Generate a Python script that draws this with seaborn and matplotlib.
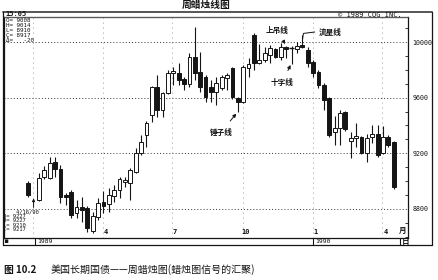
import numpy as np
import pandas as pd
import matplotlib
matplotlib.use("Agg")
import matplotlib.pyplot as plt
import matplotlib.transforms as mtransforms
from matplotlib.lines import Line2D
import seaborn as sns

# ---- data (weekly T-bond futures, points; 100.00 = "10000") ----
week = list(range(69))
open_ = [89.86, np.nan, 88.63, 90.29, 90.22, 91.37, 90.86, 88.99, 89.21, 87.70, 88.13, 88.06, 86.40, 87.41, 88.49,
         88.35, 88.92, 89.35, 89.93, 89.86, 90.65, 92.01, 93.31, 94.75, 96.76, 95.11, 96.33, 97.77, 97.77, 97.34,
         96.98, 98.92, 97.84, 97.48, 96.76, 96.40, 96.69, 97.41, 98.13, 95.97, 95.68, 98.13, 100.50, 98.49, 98.71,
         99.06, 99.50, 98.92, 99.64, 99.60, 99.50, 99.78, 99.42, 98.56, 97.84, 96.91, 95.97, 93.53, 93.81, 94.96,
         92.88, 93.13, 93.17, 92.01, 93.17, 93.38, 92.01, 93.17, 92.81]
high = [90.00, np.nan, 90.58, 91.08, 91.73, 91.73, 91.15, 89.14, 89.35, 88.63, 88.85, 88.20, 87.77, 88.78, 89.28,
        89.50, 89.71, 90.29, 90.29, 90.94, 92.37, 93.31, 94.32, 96.83, 97.63, 96.40, 97.99, 98.20, 98.49, 97.48,
        99.21, 101.08, 99.28, 97.63, 97.27, 97.48, 97.63, 97.77, 98.20, 96.04, 98.35, 98.85, 100.65, 99.86, 99.64,
        99.78, 99.57, 99.93, 99.71, 99.71, 100.00, 100.50, 99.64, 98.71, 97.99, 97.05, 96.04, 94.68, 95.11, 95.04,
        93.53, 94.17, 93.24, 93.38, 94.03, 94.03, 93.96, 93.31, 92.88]
low = [88.85, np.nan, 88.56, 90.14, 90.14, 90.29, 88.42, 88.27, 87.34, 87.34, 87.05, 86.33, 86.26, 87.19, 87.70,
       87.77, 88.49, 88.78, 89.57, 88.63, 90.58, 91.87, 92.45, 94.24, 94.60, 94.60, 96.26, 96.90, 96.90, 96.55,
       96.76, 97.27, 96.40, 95.68, 95.68, 95.47, 96.55, 96.55, 95.90, 94.96, 95.61, 97.48, 97.99, 98.42, 98.56,
       98.49, 98.85, 98.71, 98.85, 98.42, 99.21, 99.57, 98.20, 97.48, 96.69, 95.11, 93.17, 92.59, 92.59, 93.60,
       91.65, 92.45, 91.94, 91.37, 92.73, 91.73, 91.94, 92.45, 89.42]
close = [88.99, np.nan, 90.22, 90.79, 91.29, 90.86, 88.85, 88.85, 87.55, 88.13, 87.91, 86.62, 87.48, 88.42, 88.20,
         88.99, 89.35, 90.14, 90.00, 90.79, 92.01, 92.81, 94.17, 96.76, 95.11, 96.33, 97.77, 97.88, 97.27, 96.98,
         98.92, 97.77, 96.76, 96.04, 96.40, 97.05, 97.48, 97.63, 96.04, 95.68, 98.20, 98.42, 98.49, 98.71, 99.21,
         99.57, 98.92, 99.64, 99.50, 99.60, 99.71, 99.64, 98.49, 97.77, 96.91, 95.83, 93.31, 93.81, 94.89, 93.74,
         93.09, 93.17, 92.01, 93.09, 93.38, 91.87, 93.17, 92.59, 89.57]

ytick_vals = [100, 96, 92, 88]
ytick_labels = ["10000", "9600", "9200", "8800"]
month_pos = [14.4, 27.3, 40.4, 53.4, 66.6]
month_labels = ["4", "7", "10", "1", "4"]
quarter_lines = [0.9, 14.0, 26.7, 40.0, 52.9, 65.8]

title = "周蜡烛线图"
caption_bold = "图 10.2"
caption_rest = "美国长期国债——周蜡烛图(蜡烛图信号的汇聚)"
info_top = "O= 9008\nH= 9014\nL= 8910\nC= 8917\nΔ=   -20"
info_bot = "    4/16/90\nO= 9227\nH= 9227\nL= 9210\nC= 9217"

df = pd.DataFrame({"week": week, "open": open_, "high": high, "low": low, "close": close}).dropna()

sns.set_style("white")
plt.rcParams['font.family'] = ['Noto Sans CJK SC', 'DejaVu Sans']

W, H = 438, 280
fig = plt.figure(figsize=(W / 100, H / 100), dpi=100)

def fx(x):
    return x / W

def fy(y):
    return 1 - y / H

ax = fig.add_axes([fx(4), fy(238), fx(408) - fx(4), fy(17) - fy(238)])
ax.set_xlim(-4.5, 70.65)
ax.set_ylim(85.9, 101.8)

ink = "#151515"
# grid
for v in ytick_vals:
    ax.axhline(v, color="#333333", lw=0.7, ls=(0, (1, 2.2)), zorder=1)
for q in quarter_lines:
    ax.axvline(q, color="#777777", lw=0.6, ls=(0, (1, 5)), zorder=1)

# candles
bw = 0.7
for _, r in df.iterrows():
    x = r["week"]
    ax.vlines(x, r["low"], r["high"], color=ink, lw=0.8, zorder=2)
    lo, hi = min(r["open"], r["close"]), max(r["open"], r["close"])
    if hi - lo < 0.02:
        ax.hlines(lo, x - 0.45, x + 0.45, color=ink, lw=1.0, zorder=3)
        continue
    h = max(hi - lo, 0.12)
    fc = "white" if r["close"] >= r["open"] else ink
    ax.bar(x, h, bottom=lo, width=bw, color=fc, edgecolor=ink, linewidth=0.7, zorder=3)

# cursor arrow
ax.annotate("", xy=(1, 88.75), xytext=(1, 88.1),
            arrowprops=dict(arrowstyle="-|>", color=ink, lw=0.7, mutation_scale=4, shrinkA=0, shrinkB=0))

# axes styling
for s in ax.spines.values():
    s.set_color(ink)
    s.set_linewidth(0.9)
ax.yaxis.tick_right()
ax.set_yticks(ytick_vals)
ax.set_yticklabels(ytick_labels, family="DejaVu Sans Mono", fontsize=4.8, color=ink)
ax.set_yticks(np.arange(86, 102, 1), minor=True)
ax.tick_params(axis="y", which="major", length=0, pad=3)
ax.tick_params(axis="y", which="minor", length=2, width=0.6, direction="in", color=ink)
ax.set_xticks([])

tr = mtransforms.blended_transform_factory(ax.transData, ax.transAxes)
for p, lab in zip(month_pos, month_labels):
    ax.text(p, 0.012, lab, transform=tr, ha="center", va="bottom", fontsize=5, family="DejaVu Sans Mono",
            fontweight="bold", color=ink)
ax.text(69.6, 0.012, "月", transform=tr, ha="center", va="bottom", fontsize=5.5, fontweight="bold", color=ink)

# annotations
akw = dict(fontsize=5.5, fontweight="bold", color=ink, ha="center", va="center")
ax.annotate("上吊线", xy=(47.8, 99.85), xytext=(46.3, 100.86),
            arrowprops=dict(arrowstyle="-|>", color=ink, lw=0.7, mutation_scale=5, shrinkA=3, shrinkB=0), **akw)
ax.annotate("十字线", xy=(48.8, 98.35), xytext=(47.3, 97.12),
            arrowprops=dict(arrowstyle="-|>", color=ink, lw=0.7, mutation_scale=5, shrinkA=3, shrinkB=0), **akw)
ax.annotate("锤子线", xy=(38.7, 94.85), xytext=(35.9, 93.53),
            arrowprops=dict(arrowstyle="-|>", color=ink, lw=0.7, mutation_scale=5, shrinkA=3, shrinkB=0), **akw)
ax.text(56.2, 100.72, "流星线", **akw)
ax.plot([53.3, 51.2, 51.0], [100.72, 100.62, 100.1], color=ink, lw=0.7)

# frames
def fline(x0, y0, x1, y1, lw=0.9, c=ink):
    fig.add_artist(Line2D([fx(x0), fx(x1)], [fy(y0), fy(y1)], transform=fig.transFigure, color=c, lw=lw))

fline(3, 11.5, 432, 11.5, lw=1.4, c="#555555")
fline(3, 11.5, 3, 245)
fline(432, 11.5, 432, 245)
fline(3, 245, 432, 245)
fline(4, 17, 408, 17, lw=0.6, c="#666666")
for xs in [35, 313, 400]:
    fline(xs, 238, xs, 245, lw=0.8)

# header / footer texts
mono = dict(family="DejaVu Sans Mono", color=ink)
fig.text(fx(5), fy(14.3), "15:05", fontsize=5, va="center", ha="left", fontweight="bold", **mono)
fig.text(fx(338), fy(14.3), "© 1989 CQG INC.", fontsize=5, va="center", ha="left", **mono)
fig.text(fx(206), fy(5), title, fontsize=7, fontweight="bold", ha="center", va="center", color=ink)
fig.text(fx(6), fy(18.5), info_top, fontsize=4.2, va="top", ha="left", linespacing=0.95, **mono)
fig.text(fx(3), fy(209.5), info_bot, fontsize=4.0, va="top", ha="left", linespacing=0.85, **mono)
fig.text(fx(5), fy(241.5), "■", fontsize=4, va="center", ha="left", **mono)
fig.text(fx(37), fy(241.5), "1989", fontsize=4.6, va="center", ha="left", **mono)
fig.text(fx(315), fy(241.5), "1990", fontsize=4.6, va="center", ha="left", **mono)
fig.text(fx(402), fy(241.5), "日", fontsize=5.5, va="center", ha="left", fontweight="bold", color=ink)

fig.text(fx(4), fy(270), caption_bold, fontsize=7, fontweight="bold", va="center", ha="left", color=ink)
fig.text(fx(51), fy(270), caption_rest, fontsize=7.2, va="center", ha="left", color=ink)

fig.savefig("out.png", dpi=100)
